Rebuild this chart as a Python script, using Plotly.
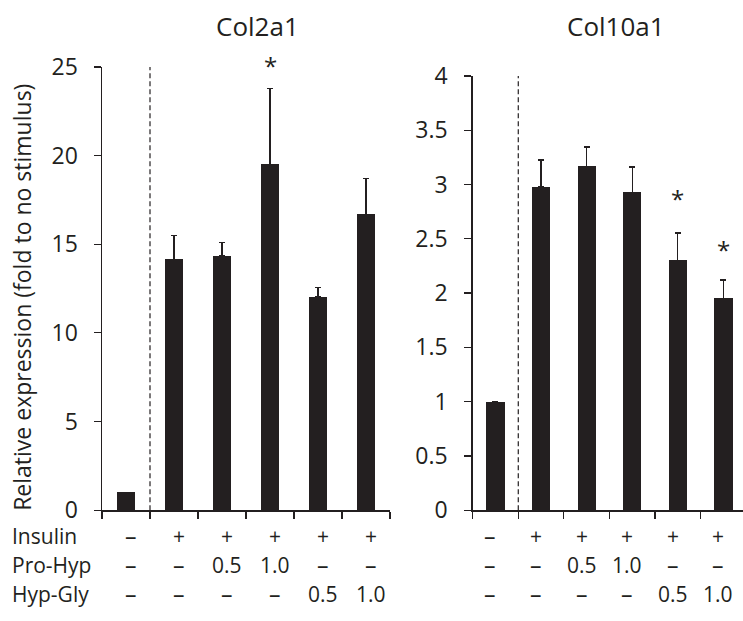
import plotly.graph_objects as go

# ---- data ----
categories = [0, 1, 2, 3, 4, 5]
col2a1_values = [1.0, 14.15, 14.34, 19.5, 12.05, 16.69]
col2a1_errors = [0.0, 1.33, 0.75, 4.28, 0.49, 2.03]
col10a1_values = [1.0, 2.98, 3.167, 2.928, 2.30, 1.95]
col10a1_errors = [0.0, 0.245, 0.177, 0.233, 0.254, 0.17]
col2a1_sig = [3]
col10a1_sig = [4, 5]
row_names = ["Insulin", "Pro-Hyp", "Hyp-Gly"]
insulin_row = ["–", "+", "+", "+", "+", "+"]
prohyp_row = ["–", "–", "0.5", "1.0", "–", "–"]
hypgly_row = ["–", "–", "–", "–", "0.5", "1.0"]
panel_titles = ["Col2a1", "Col10a1"]
y_title = "Relative expression (fold to no stimulus)"

W, H = 743, 621
INK = "#231f20"
TXT = "#231f20"
FONT = "Open Sans"

# observed vertical placement of the page in the photograph
OY, SY = 16.7, 0.95


def px_x(p):
    return p / W


def px_y(p):
    return 1 - (p - OY) / SY / H


fig = go.Figure()

fig.add_trace(go.Bar(
    x=categories, y=col2a1_values, width=0.39,
    marker=dict(color=INK, line=dict(width=0)),
    error_y=dict(type="data", array=col2a1_errors, arrayminus=[0] * 6,
                 symmetric=False, color=INK, thickness=1.3, width=3),
    xaxis="x", yaxis="y", showlegend=False, hoverinfo="skip"))

fig.add_trace(go.Bar(
    x=categories, y=col10a1_values, width=0.40,
    marker=dict(color=INK, line=dict(width=0)),
    error_y=dict(type="data", array=col10a1_errors, arrayminus=[0] * 6,
                 symmetric=False, color=INK, thickness=1.3, width=3),
    xaxis="x2", yaxis="y2", showlegend=False, hoverinfo="skip"))

axis_common = dict(showline=True, linecolor=INK, linewidth=1.5, showgrid=False,
                   zeroline=False, ticks="outside", ticklen=7, tickwidth=1.2,
                   tickcolor=INK)

fig.update_layout(
    width=W, height=H,
    margin=dict(l=0, r=0, t=0, b=0),
    paper_bgcolor="white", plot_bgcolor="white",
    font=dict(family=FONT, size=22, color=TXT),
    bargap=0,
    xaxis=dict(domain=[px_x(102), px_x(390)], range=[-0.5, 5.5],
               tickvals=[-0.5, 0.5, 1.5, 2.5, 3.5, 4.5, 5.5], showticklabels=False,
               anchor="y", **axis_common),
    yaxis=dict(domain=[px_y(510.7), px_y(66.7)], range=[0, 25], dtick=5,
               tick0=0, anchor="x", ticklabelstandoff=11,
               tickfont=dict(size=23, color=TXT), **axis_common),
    xaxis2=dict(domain=[px_x(472.7), 1.0], range=[-0.5, 5.43],
                tickvals=[-0.5, 0.5, 1.5, 2.5, 3.5, 4.5, 5.5], showticklabels=False,
                anchor="y2", **axis_common),
    yaxis2=dict(domain=[px_y(510.7), px_y(75.7)], range=[0, 4], dtick=0.5,
                tick0=0, anchor="x2", ticklabelstandoff=12,
                tickfont=dict(size=23, color=TXT), **axis_common),
)

# dashed separators
fig.add_shape(type="line", xref="x", yref="y", x0=0.5, x1=0.5, y0=0, y1=25,
              line=dict(color=INK, width=1.2, dash="5px,3px"))
fig.add_shape(type="line", xref="x2", yref="y2", x0=0.5, x1=0.5, y0=0, y1=4,
              line=dict(color=INK, width=1.2, dash="5px,3px"))

ann = []
# titles
for t, xc in zip(panel_titles, [257.5, 616]):
    ann.append(dict(text=t, xref="paper", yref="paper", x=px_x(xc),
                    y=1 - 10 / H, xanchor="center", yanchor="middle", showarrow=False,
                    font=dict(size=26, color=TXT)))
# y title
ann.append(dict(text=y_title, xref="paper", yref="paper", x=px_x(22), y=px_y(298),
                xanchor="center", yanchor="middle", textangle=-90, showarrow=False,
                font=dict(size=23, color=TXT)))
# significance
sig_shift_left = [23]
sig_shift_right = [34, 31]
for i, s in zip(col2a1_sig, sig_shift_left):
    ann.append(dict(text="*", xref="x", yref="y", x=i, y=col2a1_values[i] + col2a1_errors[i],
                    yanchor="middle", yshift=s, showarrow=False, font=dict(size=24, color=TXT)))
for i, s in zip(col10a1_sig, sig_shift_right):
    ann.append(dict(text="*", xref="x2", yref="y2", x=i, y=col10a1_values[i] + col10a1_errors[i],
                    yanchor="middle", yshift=s, showarrow=False, font=dict(size=24, color=TXT)))

# condition table (rows kept inside the page)
row_px = [547, 578, 608]
rows = [insulin_row, prohyp_row, hypgly_row]
for name, yy in zip(row_names, row_px):
    ann.append(dict(text=name, xref="paper", yref="paper", x=px_x(10), y=1 - yy / H,
                    xanchor="left", yanchor="middle", showarrow=False,
                    font=dict(size=21, color=TXT)))
for row, yy in zip(rows, row_px):
    for c, t in zip(categories, row):
        fs = 23 if t == "–" else 21
        ann.append(dict(text=t, xref="x", yref="paper", x=c, y=1 - yy / H, xshift=5,
                        xanchor="center", yanchor="middle", showarrow=False,
                        font=dict(size=fs, color=TXT)))
        ann.append(dict(text=t, xref="x2", yref="paper", x=c, y=1 - yy / H, xshift=-5,
                        xanchor="center", yanchor="middle", showarrow=False,
                        font=dict(size=fs, color=TXT)))

fig.update_layout(annotations=ann)
fig.write_html(
    "out.html",
    config={"displayModeBar": False, "staticPlot": True},
    post_script=(
        "document.documentElement.style.margin='0';"
        "document.documentElement.style.overflow='hidden';"
        "document.body.style.margin='0';"
        "document.body.style.overflow='hidden';"
        "var gd=document.getElementById('{plot_id}');"
        "gd.style.position='fixed';gd.style.left='0px';gd.style.top='0px';"
    ),
)
